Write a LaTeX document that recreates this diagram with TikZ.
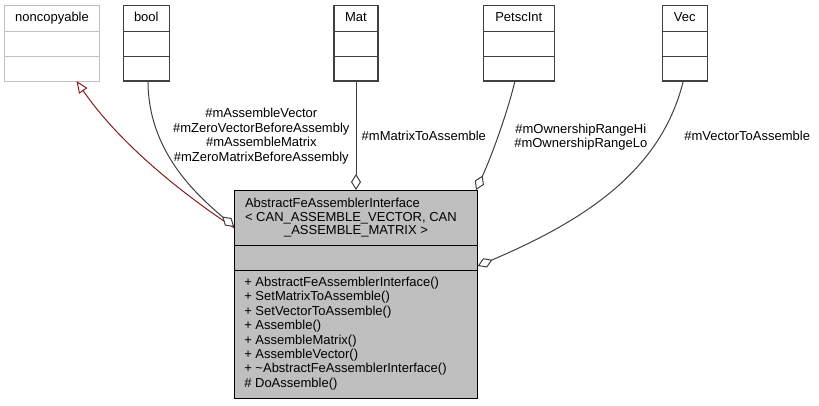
\documentclass[tikz,border=0pt]{standalone}
\usepackage{fontspec}
\setmainfont{Liberation Sans}
\usetikzlibrary{arrows.meta,calc}
\definecolor{edgegrey}{HTML}{404040}
\definecolor{inhred}{HTML}{8B1A1A}
\definecolor{boxfill}{HTML}{BFBFBF}
\definecolor{ncgrey}{HTML}{C0C0C0}
\begin{document}
\begin{tikzpicture}[x=1bp,y=-1bp,
  every node/.style={inner sep=0pt, outer sep=0pt, font=\fontsize{13bp}{14.4bp}\selectfont},
  classrow/.style={draw=edgegrey, line width=1.3bp, anchor=north, text height=9.5bp, text depth=2.7bp},
  ncrow/.style={classrow, draw=ncgrey, line width=1bp, minimum width=94bp},
  mainrow/.style={draw=black, fill=boxfill, line width=1bp, anchor=north, minimum width=243.4bp},
  assoc/.style={draw=edgegrey, line width=1bp, -{Diamond[fill=white, length=16bp, width=10bp]}},
  inh/.style={draw=inhred, line width=1bp, -{Triangle[fill=white, length=12bp, width=10bp]}},
  lbl/.style={align=center}
]
\useasboundingbox (0,0) rectangle (819,405);

% noncopyable
\node[ncrow, minimum height=26bp] (nc) at (52,5.5) {noncopyable};
\node[ncrow, minimum height=25bp] (ncA) at (nc.south) {};
\node[ncrow, minimum height=24.5bp] (ncB) at (ncA.south) {};

% bool
\node[classrow, minimum width=46bp, minimum height=26bp] (bool) at (146.3,5.5) {bool};
\node[classrow, minimum width=46bp, minimum height=25bp] (boolA) at (bool.south) {};
\node[classrow, minimum width=46bp, minimum height=24.5bp] (boolB) at (boolA.south) {};

% Mat
\node[classrow, minimum width=44bp, minimum height=26bp] (mat) at (356,5.5) {Mat};
\node[classrow, minimum width=44bp, minimum height=25bp] (matA) at (mat.south) {};
\node[classrow, minimum width=44bp, minimum height=24.5bp] (matB) at (matA.south) {};

% PetscInt
\node[classrow, minimum width=71bp, minimum height=26bp] (pet) at (518.8,5.5) {PetscInt};
\node[classrow, minimum width=71bp, minimum height=25bp] (petA) at (pet.south) {};
\node[classrow, minimum width=71bp, minimum height=24.5bp] (petB) at (petA.south) {};

% Vec
\node[classrow, minimum width=45bp, minimum height=26bp] (vec) at (684.8,5.5) {Vec};
\node[classrow, minimum width=45bp, minimum height=25bp] (vecA) at (vec.south) {};
\node[classrow, minimum width=45bp, minimum height=24.5bp] (vecB) at (vecA.south) {};

% main class
\node[mainrow, minimum height=55bp] (mainH) at (356,190) {};
\node[mainrow, minimum height=25bp] (mainA) at (mainH.south) {};
\node[mainrow, minimum height=128bp] (mainB) at (mainA.south) {};

\node[anchor=base west] (t1) at (245,207.5) {AbstractFeAssemblerInterface};
\node[anchor=base west] (t2) at (245,221) {< CAN\_ASSEMBLE\_VECTOR, CAN};
\node[anchor=base] (t3) at (356,234.5) {\_ASSEMBLE\_MATRIX >};

\foreach \txt [count=\i from 0] in {%
  {+ AbstractFeAssemblerInterface()},
  {+ SetMatrixToAssemble()},
  {+ SetVectorToAssemble()},
  {+ Assemble()},
  {+ AssembleMatrix()},
  {+ AssembleVector()},
  {+ \textasciitilde AbstractFeAssemblerInterface()},
  {\# DoAssemble()}}
  \node[anchor=base west] (m\i) at (244.3, 286.5+14.4*\i) {\txt};

% edges
\draw[inh] ([yshift=17bp]mainH.south west) .. controls (176,189.5) and (117,140) .. ([xshift=24.5bp]ncB.south);
\draw[assoc] ([xshift=1.7bp]boolB.south) .. controls (148,151.5) and (196.5,194.5) .. ([yshift=18bp]mainH.south west);
\draw[assoc] (matB.south) -- (matB.south |- mainH.north);
\draw[assoc] ([xshift=-3.8bp]petB.south) .. controls (506.6,115.5) and (490.7,158.1) .. ([xshift=-1.7bp]mainH.north east);
\draw[assoc] ([xshift=-1.5bp]vecB.south) .. controls (661.7,168.8) and (588.4,219) .. ([yshift=-8.5bp]mainA.east);

% labels
\node[lbl, anchor=north] (lbool) at (261.3,108.5) {\#mAssembleVector\\\#mZeroVectorBeforeAssembly\\\#mAssembleMatrix\\\#mZeroMatrixBeforeAssembly};
\node[anchor=base west] (lmat) at (361.7,140) {\#mMatrixToAssemble};
\node[lbl, anchor=north] (lpet) at (580.8,123.7) {\#mOwnershipRangeHi\\\#mOwnershipRangeLo};
\node[anchor=base west] (lvec) at (684.3,140) {\#mVectorToAssemble};
\end{tikzpicture}
\end{document}
